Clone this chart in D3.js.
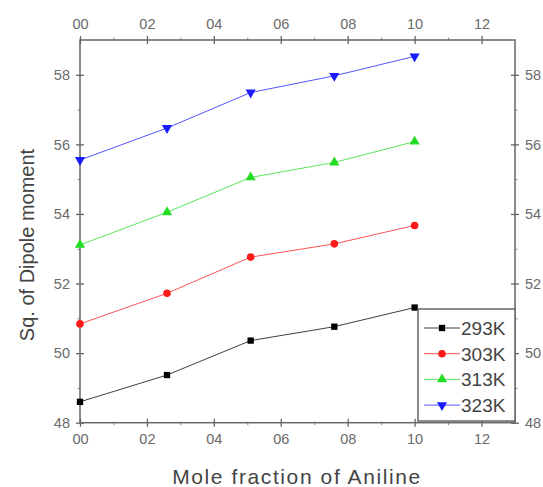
<html>
<head>
<script src="https://cdn.jsdelivr.net/npm/d3@7"></script>
<style>
  body { margin: 0; background: #fff; }
  text { font-family: Arial, "Liberation Sans", sans-serif; }
</style>
</head>
<body>
<div id="chart"></div>
<script>
// data
var xValues = [0, 0.26, 0.51, 0.76, 1.0];
var series = ["293K", "303K", "313K", "323K"];
var k293 = [48.6, 49.37, 50.36, 50.76, 51.31];
var k303 = [50.84, 51.72, 52.76, 53.14, 53.67];
var k313 = [53.11, 54.05, 55.05, 55.48, 56.08];
var k323 = [55.55, 56.47, 57.49, 57.97, 58.53];
var xTicks = [0, 0.2, 0.4, 0.6, 0.8, 1.0, 1.2];
var xTickLabels = ["00", "02", "04", "06", "08", "10", "12"];
var yTicks = [48, 50, 52, 54, 56, 58];

var W = 543, H = 487,
    L = 80, R = 515, T = 40, B = 422.7;

var colors = ["#000000", "#ff1a1a", "#22dd22", "#1a1aff"];
var shapes = [d3.symbolSquare, d3.symbolCircle, d3.symbolTriangle, d3.symbolTriangle];
var rot = [0, 0, 0, 180];
var values = [k293, k303, k313, k323];

var svg = d3.select("#chart").append("svg").attr("width", W).attr("height", H);

var x = d3.scaleLinear().domain([0, 1.3]).range([L, R]);
var y = d3.scaleLinear().domain([48, 59]).range([B, T]);

var minorX = d3.range(0.1, 1.3, 0.2);
var minorY = d3.range(49, 59, 2);

function frameAxis(gen, pos, minorVals, major, labels, side) {
  // major ticks straddle the axis line, minor ones are shorter
  var g = svg.append("g").attr("transform", pos);
  g.call(gen.tickValues(major).tickSize(4).tickPadding(side == "l" || side == "r" ? 6 : 7)
    .tickFormat(function(d, i) { return labels ? labels[i] : d; }));
  g.select(".domain").remove();
  g.selectAll(".tick line").attr("stroke", "#666").attr("stroke-width", 1.3);
  g.selectAll(".tick text").attr("fill", "#6a6a6a").style("font-size", "14.5px");
  g.selectAll(".tick").append("line")
    .attr(side == "l" || side == "r" ? "x2" : "y2", side == "l" || side == "t" ? 4 : -4)
    .attr("stroke", "#666").attr("stroke-width", 1.3);
  var m = svg.append("g").attr("transform", pos);
  m.call(gen.tickValues(minorVals).tickSize(2.5).tickFormat(""));
  m.select(".domain").remove();
  m.selectAll(".tick line").attr("stroke", "#888").attr("stroke-width", 1);
  return g;
}

frameAxis(d3.axisBottom(x), "translate(0," + B + ")", minorX, xTicks, xTickLabels, "b");
frameAxis(d3.axisTop(x), "translate(0," + T + ")", minorX, xTicks, xTickLabels, "t");
frameAxis(d3.axisLeft(y), "translate(" + L + ",0)", minorY, yTicks, null, "l");
frameAxis(d3.axisRight(y), "translate(" + R + ",0)", minorY, yTicks, null, "r");

svg.append("rect").attr("x", L).attr("y", T).attr("width", R - L).attr("height", B - T)
  .attr("fill", "none").attr("stroke", "#666").attr("stroke-width", 1.5);

var line = d3.line().x(function(d, i) { return x(xValues[i]); }).y(function(d) { return y(d); });

values.forEach(function(vals, s) {
  svg.append("path").datum(vals).attr("d", line)
    .attr("fill", "none").attr("stroke", colors[s]).attr("stroke-width", 1).attr("opacity", 0.75);
  svg.selectAll(".pt" + s).data(vals).enter().append("path")
    .attr("d", d3.symbol().type(shapes[s]).size(s == 0 ? 40 : 45))
    .attr("transform", function(d, i) { return "translate(" + x(xValues[i]) + "," + y(d) + ") rotate(" + rot[s] + ")"; })
    .attr("fill", colors[s]);
});

// legend
var lg = svg.append("g");
lg.append("rect").attr("x", 418).attr("y", 309).attr("width", R - 418).attr("height", 112)
  .attr("fill", "#fff").attr("stroke", "#666").attr("stroke-width", 1.5);
series.forEach(function(name, s) {
  var ly = 328 + s * 25.7;
  lg.append("line").attr("x1", 424).attr("x2", 460).attr("y1", ly).attr("y2", ly)
    .attr("stroke", colors[s]).attr("stroke-width", 1).attr("opacity", 0.75);
  lg.append("path").attr("d", d3.symbol().type(shapes[s]).size(s == 0 ? 40 : 45))
    .attr("transform", "translate(442," + ly + ") rotate(" + rot[s] + ")").attr("fill", colors[s]);
  lg.append("text").attr("x", 461).attr("y", ly + 7).text(name)
    .attr("fill", "#444").style("font-size", "19px");
});

svg.append("text").attr("transform", "translate(34,245) rotate(-90)")
  .attr("text-anchor", "middle").attr("fill", "#444").style("font-size", "20px")
  .text("Sq. of Dipole moment");
svg.append("text").attr("x", 297).attr("y", 484).attr("text-anchor", "middle")
  .attr("fill", "#444").style("font-size", "21px").style("letter-spacing", "1.6px")
  .text("Mole fraction of Aniline");
</script>
</body>
</html>
